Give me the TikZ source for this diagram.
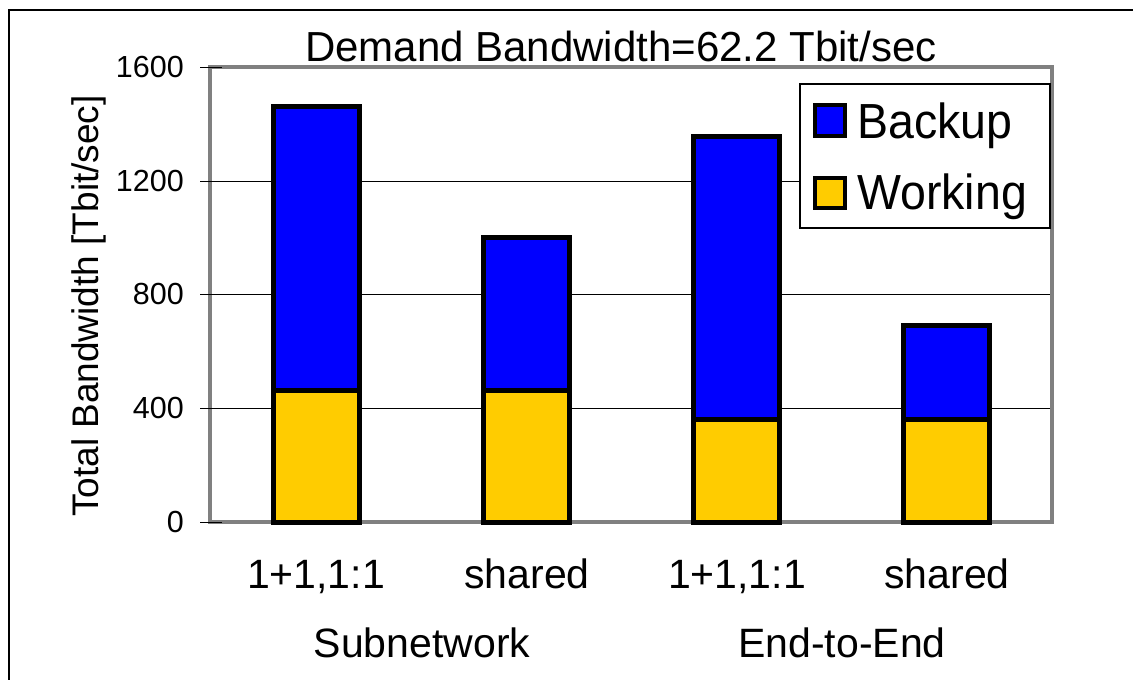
\documentclass[tikz,border=0pt]{standalone}
\usepackage{fontspec}
\setmainfont{Liberation Sans}
\definecolor{backupblue}{RGB}{0,0,255}
\definecolor{workgold}{RGB}{255,204,0}
\definecolor{frameg}{RGB}{128,128,128}
\tikzset{
  barbox/.style={draw=black, line width=5pt},
  legsq/.style={draw=black, line width=4pt},
  gridln/.style={draw=black, line width=0.9pt},
  ticklab/.style={anchor=east, inner sep=0pt, font=\fontsize{30.5}{36}\selectfont},
  catlab/.style={anchor=base, inner sep=0pt, font=\fontsize{41}{48}\selectfont},
  leglab/.style={anchor=base west, inner sep=0pt, font=\fontsize{46.5}{54}\selectfont},
}
\begin{document}
\begin{tikzpicture}[x=1pt,y=-1pt]
\clip (0,0) rectangle (1133,680);
\fill[white] (0,0) rectangle (1133,680);
% outer frame
\draw[black, line width=1.5pt] (9,10) rectangle (1160,700);
% gridlines
\foreach \yy in {181,294,408} \draw[gridln] (210,\yy) -- (1052,\yy);
% plot frame
\draw[frameg, line width=4pt] (210,67) rectangle (1052,522);
% ticks
\foreach \yy in {67,181,294,408,522} \draw[gridln] (200,\yy) -- (222,\yy);
% tick labels
\node[ticklab] (t0) at (184,522) {0};
\node[ticklab] (t1) at (184,408) {400};
\node[ticklab] (t2) at (184,294) {800};
\node[ticklab] (t3) at (184,181) {1200};
\node[ticklab] (t4) at (184,67) {1600};
% axis title
\node[rotate=90, inner sep=0pt, font=\fontsize{37}{43}\selectfont] (ytitle) at (89,306) {Total Bandwidth [Tbit/sec]};
% chart title
\node[catlab, font=\fontsize{42}{50}\selectfont] (title) at (621,61) {Demand Bandwidth=62.2 Tbit/sec};
% bars
\filldraw[barbox, fill=workgold] (273,522) rectangle (359,390);
\filldraw[barbox, fill=backupblue] (273,390) rectangle (359,106);
\filldraw[barbox, fill=workgold] (483,522) rectangle (569,390);
\filldraw[barbox, fill=backupblue] (483,390) rectangle (569,237);
\filldraw[barbox, fill=workgold] (693,522) rectangle (779,419);
\filldraw[barbox, fill=backupblue] (693,419) rectangle (779,136);
\filldraw[barbox, fill=workgold] (903,522) rectangle (989,419);
\filldraw[barbox, fill=backupblue] (903,419) rectangle (989,325);
% category labels
\node[catlab] (c1) at (316,588) {1+1,1:1};
\node[catlab] (c2) at (527,588) {shared};
\node[catlab] (c3) at (737,588) {1+1,1:1};
\node[catlab] (c4) at (947,588) {shared};
\node[catlab] (g1) at (422,657) {Subnetwork};
\node[catlab] (g2) at (842,657) {End-to-End};
% legend
\filldraw[draw=black, fill=white, line width=1.3pt] (800,84) rectangle (1050,228);
\filldraw[legsq, fill=backupblue] (815,105) rectangle (845,136);
\filldraw[legsq, fill=workgold] (815,178) rectangle (845,208);
\node[leglab] (lb) at (857,138) {\scalebox{1}[1.06]{Backup}};
\node[leglab] (lw) at (857,209) {\scalebox{1}[1.06]{Working}};
\end{tikzpicture}
\end{document}
